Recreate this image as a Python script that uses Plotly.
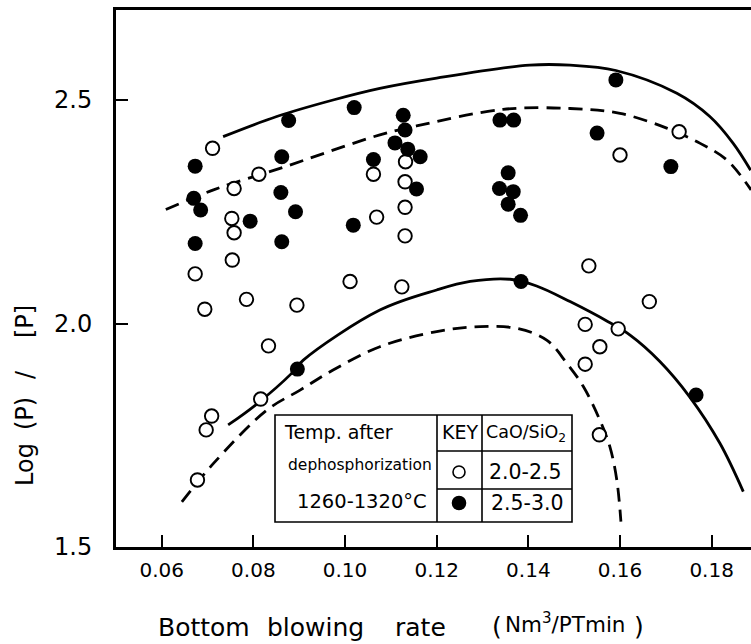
import plotly.graph_objects as go

# --- Heats with CaO/SiO2 = 2.0-2.5 (open circles) -------------------------
open_x = [0.0711, 0.0812, 0.0758, 0.0753, 0.0758, 0.0754, 0.0673, 0.0785,
          0.0694, 0.0895, 0.0833, 0.0816, 0.0709, 0.0697, 0.0678, 0.1011,
          0.1062, 0.1069, 0.1132, 0.1131, 0.1131, 0.1131, 0.1124, 0.1600,
          0.1729, 0.1532, 0.1664, 0.1524, 0.1596, 0.1556, 0.1524, 0.1555]
open_y = [2.392, 2.334, 2.302, 2.235, 2.203, 2.142, 2.111, 2.054,
          2.032, 2.041, 1.950, 1.831, 1.793, 1.762, 1.650, 2.094,
          2.334, 2.238, 2.362, 2.317, 2.260, 2.196, 2.082, 2.377,
          2.429, 2.129, 2.049, 1.998, 1.988, 1.948, 1.909, 1.751]

# --- Heats with CaO/SiO2 = 2.5-3.0 (filled circles) -----------------------
filled_x = [0.0673, 0.0877, 0.1020, 0.0862, 0.0670, 0.0685, 0.0860, 0.0892,
            0.0793, 0.0673, 0.0862, 0.1018, 0.1062, 0.1127, 0.1131, 0.1109,
            0.1137, 0.1164, 0.1156, 0.1338, 0.1368, 0.1356, 0.1337, 0.1367,
            0.1356, 0.1383, 0.1591, 0.1550, 0.1711, 0.1384, 0.0896, 0.1766]
filled_y = [2.352, 2.454, 2.483, 2.373, 2.280, 2.254, 2.293, 2.250,
            2.229, 2.179, 2.183, 2.220, 2.367, 2.466, 2.433, 2.404,
            2.390, 2.373, 2.301, 2.455, 2.455, 2.337, 2.302, 2.295,
            2.267, 2.242, 2.545, 2.426, 2.351, 2.094, 1.898, 1.840]

# --- Envelope curves -------------------------------------------------------
upper_solid_x = [0.0734, 0.0851, 0.0974, 0.1076, 0.1200, 0.1403, 0.1491,
                 0.1591, 0.1724, 0.1796, 0.1847, 0.1885]
upper_solid_y = [2.418, 2.463, 2.500, 2.526, 2.549, 2.578, 2.578,
                 2.566, 2.515, 2.463, 2.403, 2.343]

upper_dash_x = [0.0609, 0.0713, 0.0858, 0.1076, 0.1156, 0.1345, 0.1491,
                0.1600, 0.1702, 0.1775, 0.1833, 0.1886]
upper_dash_y = [2.255, 2.299, 2.347, 2.422, 2.442, 2.479, 2.481,
                2.470, 2.437, 2.403, 2.366, 2.299]

lower_solid_x = [0.0745, 0.0804, 0.0884, 0.0909, 0.1076, 0.1200, 0.1273,
                 0.1360, 0.1418, 0.1491, 0.1574, 0.1622, 0.1687, 0.1752,
                 0.1818, 0.1869]
lower_solid_y = [1.773, 1.817, 1.889, 1.918, 2.030, 2.075, 2.094,
                 2.099, 2.084, 2.049, 2.004, 1.974, 1.915, 1.836,
                 1.732, 1.624]

lower_dash_x = [0.0644, 0.0713, 0.0829, 0.0902, 0.0974, 0.1076, 0.1200,
                0.1295, 0.1375, 0.1440, 0.1484, 0.1520, 0.1556, 0.1578,
                0.1593, 0.1602]
lower_dash_y = [1.601, 1.687, 1.806, 1.851, 1.896, 1.948, 1.982,
                1.993, 1.989, 1.963, 1.911, 1.859, 1.784, 1.724,
                1.650, 1.557]

# --- Axis ticks -------------------------------------------------------------
x_ticks = [0.06, 0.08, 0.10, 0.12, 0.14, 0.16, 0.18]
x_tick_labels = ["0.06", "0.08", "0.10", "0.12", "0.14", "0.16", "0.18"]
y_ticks = [1.5, 2.0, 2.5]
y_tick_labels = ["1.5", "2.0", "2.5"]

# --- Titles and key table text ---------------------------------------------
y_title_words = ["Log", "(P)", "/", "[P]"]
x_title_words = ["Bottom", "blowing", "rate", "(", "Nm<sup>3</sup>/PTmin", ")"]
key_temp_lines = ["Temp. after", "dephosphorization", "1260-1320°C"]
key_header = ["KEY", "CaO/SiO<sub>2</sub>"]
key_ranges = ["2.0-2.5", "2.5-3.0"]

FONT = "DejaVu Sans"
W, H = 751, 644
PL, PR, PT, PB = 116, 751, 10, 547   # plot area in pixels


def fx(px):
    return (px - PL) / (PR - PL)


def fy(py):
    return (PB - py) / (PB - PT)


fig = go.Figure()

line_w = 2.8
dash = "14px,8px"
for cx, cy, d in [(upper_solid_x, upper_solid_y, "solid"),
                  (upper_dash_x, upper_dash_y, dash),
                  (lower_solid_x, lower_solid_y, "solid"),
                  (lower_dash_x, lower_dash_y, dash)]:
    fig.add_trace(go.Scatter(
        x=cx, y=cy, mode="lines",
        line=dict(color="black", width=line_w, dash=d, shape="spline",
                  smoothing=1.0),
        hoverinfo="skip", showlegend=False))

fig.add_trace(go.Scatter(
    x=open_x, y=open_y, mode="markers", name="2.0-2.5",
    marker=dict(symbol="circle", size=13.5, color="white",
                line=dict(color="black", width=1.9)),
    showlegend=False))
fig.add_trace(go.Scatter(
    x=filled_x, y=filled_y, mode="markers", name="2.5-3.0",
    marker=dict(symbol="circle", size=15, color="black",
                line=dict(width=0)),
    showlegend=False))

# Key table frame
shapes = []
tbl_l, tbl_r, tbl_t, tbl_b = 275, 572, 415, 522
col1, col2 = 437, 482
row1, row2 = 451, 489
frame = dict(color="black", width=1.6)
shapes.append(dict(type="rect", xref="paper", yref="paper",
                   x0=fx(tbl_l), x1=fx(tbl_r), y0=fy(tbl_b), y1=fy(tbl_t),
                   line=frame, fillcolor="white", layer="above"))
for c in (col1, col2):
    shapes.append(dict(type="line", xref="paper", yref="paper",
                       x0=fx(c), x1=fx(c), y0=fy(tbl_b), y1=fy(tbl_t),
                       line=frame, layer="above"))
for r in (row1, row2):
    shapes.append(dict(type="line", xref="paper", yref="paper",
                       x0=fx(col1), x1=fx(tbl_r), y0=fy(r), y1=fy(r),
                       line=frame, layer="above"))
# key symbols
kx = 459
for ky, filled, rad in [(472, False, 6), (503, True, 6.5)]:
    shapes.append(dict(type="circle", xref="paper", yref="paper",
                       x0=fx(kx - rad), x1=fx(kx + rad),
                       y0=fy(ky + rad), y1=fy(ky - rad),
                       line=dict(color="black", width=1.6),
                       fillcolor="black" if filled else "white",
                       layer="above"))

annotations = []


def label(text, x, y, size, anchor="left", angle=0):
    annotations.append(dict(
        text=text, x=fx(x), y=fy(y), xref="paper", yref="paper",
        showarrow=False, xanchor=anchor, yanchor="middle", textangle=angle,
        font=dict(family=FONT, size=size, color="black")))


label(key_temp_lines[0], 282, 432, 19)
label(key_temp_lines[1], 286, 465, 15.5)
label(key_temp_lines[2], 295, 501, 19.5)
label(key_header[0], 459.5, 432, 19, anchor="center")
label(key_header[1], 526, 433, 17.5, anchor="center")
label(key_ranges[0], 525, 472, 20.5, anchor="center")
label(key_ranges[1], 527, 503, 20.5, anchor="center")

# Axis titles, word by word
for word, cy in zip(y_title_words, [464, 413, 374, 321]):
    label(word, 25, cy, 24, anchor="center", angle=-90)
for word, cx, cy, sz in zip(x_title_words,
                            [203.5, 315.5, 420, 497, 565, 638.5],
                            [627, 627, 627, 626, 623, 626],
                            [25, 25, 25, 25, 21.5, 25]):
    label(word, cx, cy, sz, anchor="center")

x_range = [0.06 - (161.7 - PL) / 4583, 0.06 + (PR - 161.7) / 4583]
y_range = [1.5, 2.5 + (100 - PT) / 447]

fig.update_layout(
    width=W, height=H,
    margin=dict(l=PL, r=W - PR, t=PT, b=H - PB, pad=0),
    paper_bgcolor="white", plot_bgcolor="white",
    shapes=shapes, annotations=annotations,
    font=dict(family=FONT, color="black"),
    xaxis=dict(range=x_range, tickvals=x_ticks, ticktext=x_tick_labels,
               ticks="inside", ticklen=12, tickwidth=2, tickcolor="black",
               showline=True, linecolor="black", linewidth=3, mirror=True,
               showgrid=False, zeroline=False, ticklabelstandoff=3,
               tickfont=dict(family=FONT, size=20, color="black")),
    yaxis=dict(range=y_range, tickvals=y_ticks, ticktext=y_tick_labels,
               ticks="inside", ticklen=12, tickwidth=2, tickcolor="black",
               showline=True, linecolor="black", linewidth=3, mirror=False,
               showgrid=False, zeroline=False, ticklabelstandoff=16,
               tickfont=dict(family=FONT, size=24, color="black")),
)

fig.write_html("out.html")
